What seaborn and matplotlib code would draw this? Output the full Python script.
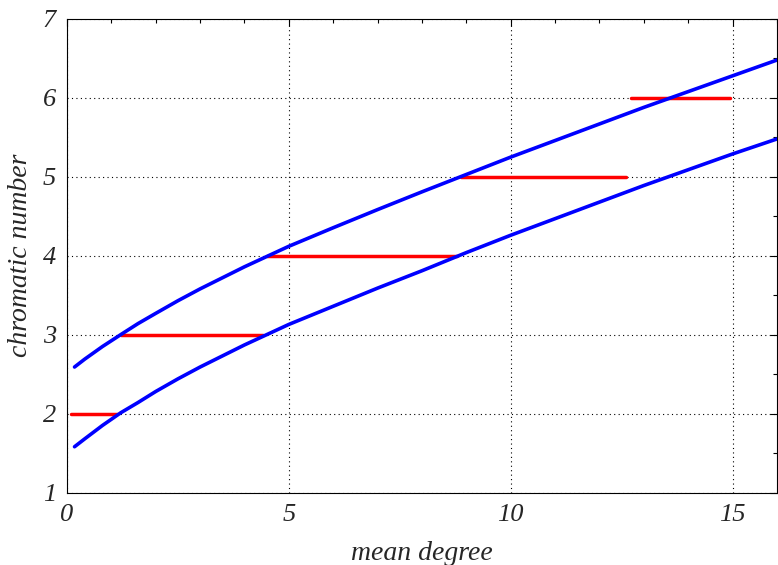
import matplotlib
matplotlib.use("Agg")
import matplotlib.pyplot as plt
import seaborn as sns
import pandas as pd
from matplotlib.ticker import MultipleLocator
from matplotlib.font_manager import FontProperties

# ---- data ----
curve_x = [0.17, 0.4, 0.8, 1.21, 1.6, 2.0, 2.5, 3.0, 3.5, 4.0, 4.5, 5.0,
           6.0, 7.0, 8.0, 9.0, 10.0, 11.0, 12.0, 13.0, 14.0, 15.0, 16.0]
upper_y = [2.59, 2.69, 2.85, 3.00, 3.14, 3.27, 3.43, 3.58, 3.72, 3.86, 3.99,
           4.12, 4.355, 4.585, 4.81, 5.03, 5.25, 5.46, 5.67, 5.88, 6.08,
           6.28, 6.48]
lower_y = [1.58, 1.68, 1.85, 2.01, 2.14, 2.28, 2.44, 2.59, 2.73, 2.87, 3.00,
           3.13, 3.36, 3.59, 3.81, 4.04, 4.26, 4.47, 4.68, 4.89, 5.09,
           5.29, 5.48]

seg_k = [2, 3, 4, 5, 6]
seg_start = [0.09, 1.21, 4.51, 8.89, 12.70]
seg_end = [1.12, 4.42, 8.78, 12.60, 14.93]

x_ticks = [0, 5, 10, 15]
y_ticks = [1, 2, 3, 4, 5, 6, 7]

# ---- tables ----
curves = pd.concat([
    pd.DataFrame({"x": curve_x, "y": upper_y, "curve": "upper"}),
    pd.DataFrame({"x": curve_x, "y": lower_y, "curve": "lower"}),
])
segs = pd.DataFrame({
    "x": seg_start + seg_end,
    "y": seg_k + seg_k,
    "k": seg_k + seg_k,
})

sns.set_theme(style="white")
plt.rcParams["font.family"] = ["Liberation Serif", "DejaVu Serif"]

tick_fp = FontProperties(family="Liberation Serif", style="italic", size=19)
label_fp = FontProperties(family="Liberation Serif", style="italic", size=20)

fig = plt.figure(figsize=(7.78, 5.65), dpi=100)
ax = fig.add_axes([0.0861, 0.1283, 0.9126, 0.8381])

sns.lineplot(data=segs, x="x", y="y", units="k", estimator=None, sort=False,
             color="#ff0000", linewidth=2.5, ax=ax, legend=False, zorder=3)
sns.lineplot(data=curves, x="x", y="y", units="curve", estimator=None,
             sort=False, color="#0000ff", linewidth=2.6, ax=ax, legend=False,
             zorder=4)

ax.set_xlim(0, 16)
ax.set_ylim(1, 7)
ax.set_xticks(x_ticks)
ax.set_yticks(y_ticks)
ax.xaxis.set_minor_locator(MultipleLocator(1))
ax.yaxis.set_minor_locator(MultipleLocator(0.5))
ax.set_xticklabels([str(t) for t in x_ticks])
ax.set_yticklabels([str(t) for t in y_ticks])
for lab in ax.get_xticklabels() + ax.get_yticklabels():
    lab.set_fontproperties(tick_fp)
ax.tick_params(which="both", direction="in", top=True, right=True,
               color="black", width=0.8)
ax.tick_params(which="major", length=5, pad=8)
ax.tick_params(which="minor", length=3)

ax.grid(True, which="major", color="black", linestyle=(0, (1, 3)), linewidth=0.8)
for s in ax.spines.values():
    s.set_color("black")
    s.set_linewidth(0.8)

ax.set_xlabel("mean degree", fontproperties=label_fp, labelpad=11)
ax.set_ylabel("chromatic number", fontproperties=label_fp, labelpad=7)

fig.savefig("out.png", dpi=100)
